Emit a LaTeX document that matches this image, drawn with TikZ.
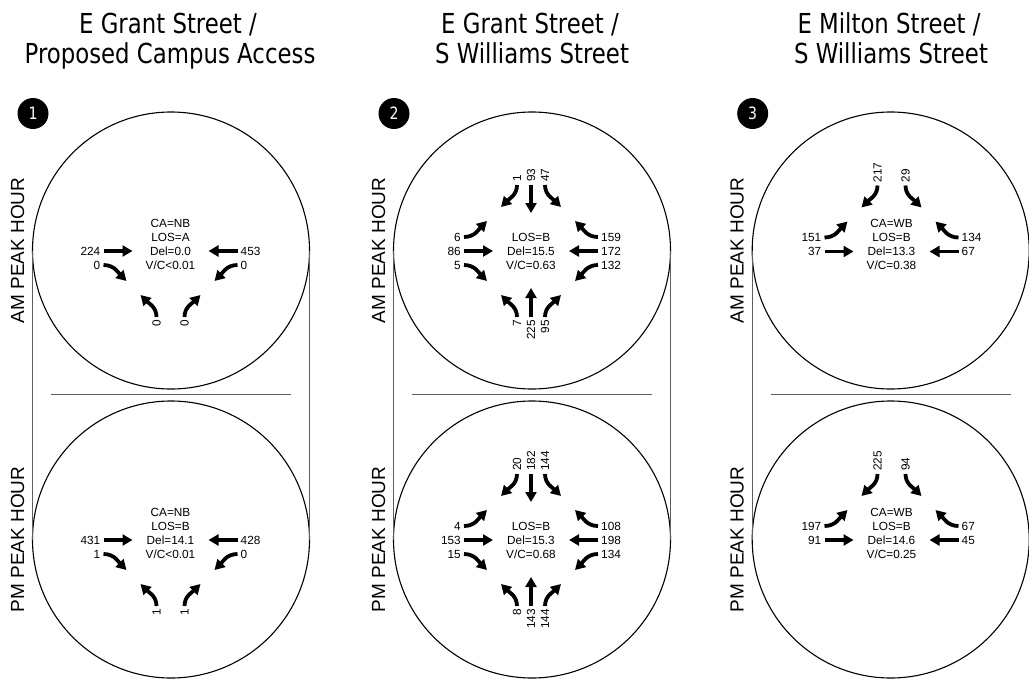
\documentclass[tikz,border=0pt]{standalone}
\usepackage{fontspec}
\setmainfont{Liberation Sans}
\newfontfamily\titlefont[FakeStretch=0.83]{DejaVu Sans}
\usetikzlibrary{arrows.meta}
\definecolor{linegray}{RGB}{95,95,95}
\tikzset{
  mv/.style={line width=3.8pt,-{Triangle[length=10pt,width=11pt]}},
  vol/.style={font=\fontsize{11.8}{13.8}\selectfont,inner sep=0pt},
  info/.style={font=\fontsize{11.8}{13.8}\selectfont,inner sep=0pt,anchor=base},
  circ/.style={draw,line width=1.1pt},
  sepline/.style={draw=linegray,line width=1pt},
  badge/.style={circle,fill=black,minimum size=31pt,inner sep=0pt,text=white,font=\titlefont\fontsize{17}{17}\selectfont},
  sidelabel/.style={rotate=90,inner sep=0pt,font=\fontsize{19}{19}\selectfont},
  titletext/.style={anchor=base,inner sep=0pt,font=\titlefont\fontsize{27.5}{30}\selectfont}
}
\newcommand\tEBT[2]{\node[vol,anchor=east] (#1) at (-70,0) {#2}; \draw[mv] (-67,0) -- (-38,0);}
\newcommand\tEBL[2]{\node[vol,anchor=east] (#1) at (-70,-14) {#2}; \draw[mv] (-67,-14) .. controls (-56,-14) and (-52,-22) .. (-44,-30);}
\newcommand\tEBR[2]{\node[vol,anchor=east] (#1) at (-70,14) {#2}; \draw[mv] (-67,14) .. controls (-56,14) and (-52,22) .. (-44,30);}
\newcommand\tWBT[2]{\node[vol,anchor=west] (#1) at (70,0) {#2}; \draw[mv] (67,0) -- (38,0);}
\newcommand\tWBR[2]{\node[vol,anchor=west] (#1) at (70,-14) {#2}; \draw[mv] (67,-14) .. controls (56,-14) and (52,-22) .. (44,-30);}
\newcommand\tWBL[2]{\node[vol,anchor=west] (#1) at (70,14) {#2}; \draw[mv] (67,14) .. controls (56,14) and (52,22) .. (44,30);}
\newcommand\tSBT[2]{\node[vol,rotate=90,anchor=west] (#1) at (0,-69) {#2}; \draw[mv] (0,-66) -- (0,-38);}
\newcommand\tSBR[2]{\node[vol,rotate=90,anchor=west] (#1) at (-14,-69) {#2}; \draw[mv] (-14,-66) .. controls (-14,-56) and (-22,-52) .. (-30,-44);}
\newcommand\tSBL[2]{\node[vol,rotate=90,anchor=west] (#1) at (14,-69) {#2}; \draw[mv] (14,-66) .. controls (14,-56) and (22,-52) .. (30,-44);}
\newcommand\tNBT[2]{\node[vol,rotate=90,anchor=east] (#1) at (0,69) {#2}; \draw[mv] (0,66) -- (0,37);}
\newcommand\tNBL[2]{\node[vol,rotate=90,anchor=east] (#1) at (-14,69) {#2}; \draw[mv] (-14,66) .. controls (-14,56) and (-22,52) .. (-30,44);}
\newcommand\tNBR[2]{\node[vol,rotate=90,anchor=east] (#1) at (14,69) {#2}; \draw[mv] (14,66) .. controls (14,56) and (22,52) .. (30,44);}
% frame of one column: #1 circle centre x, #2 badge number, #3 name prefix
\newcommand\tFrame[3]{%
  \draw[circ] (#1,250.5) circle[radius=138.5pt];
  \draw[circ] (#1,539.5) circle[radius=138.5pt];
  \draw[sepline] (#1-138.5,250.5) -- (#1-138.5,539.5);
  \draw[sepline] (#1+138.5,250.5) -- (#1+138.5,539.5);
  \draw[sepline] (#1-120,394.5) -- (#1+120,394.5);
  \node[badge] (#3badge) at (#1-138,113.5) {#2};
  \node[sidelabel] (#3am) at (#1-153.5,250.5) {AM PEAK HOUR};
  \node[sidelabel] (#3pm) at (#1-153.5,539.5) {PM PEAK HOUR};
}
\begin{document}
\begin{tikzpicture}[x=1pt,y=-1pt]
\useasboundingbox (0,0) rectangle (1029,686);
\fill[white] (0,0) rectangle (1029,686);

% ---------- column 1 ----------
\node[titletext] (t1a) at (168,33) {E Grant Street /};
\node[titletext] (t1b) at (170,63) {Proposed Campus Access};
\tFrame{171}{1}{c1}
\begin{scope}[shift={(170.5,251)}]
  \node[info] (a1ca) at (0,-23.8) {CA=NB};
  \node[info] (a1los) at (0,-9.8) {LOS=A};
  \node[info] (a1del) at (0,4.2) {Del=0.0};
  \node[info] (a1vc) at (0,18.2) {V/C<0.01};
  \tEBT{a1ebt}{224}
  \tEBR{a1ebr}{0}
  \tWBT{a1wbt}{453}
  \tWBL{a1wbl}{0}
  \tNBL{a1nbl}{0}
  \tNBR{a1nbr}{0}
\end{scope}
\begin{scope}[shift={(170.5,540)}]
  \node[info] (p1ca) at (0,-23.8) {CA=NB};
  \node[info] (p1los) at (0,-9.8) {LOS=B};
  \node[info] (p1del) at (0,4.2) {Del=14.1};
  \node[info] (p1vc) at (0,18.2) {V/C<0.01};
  \tEBT{p1ebt}{431}
  \tEBR{p1ebr}{1}
  \tWBT{p1wbt}{428}
  \tWBL{p1wbl}{0}
  \tNBL{p1nbl}{1}
  \tNBR{p1nbr}{1}
\end{scope}

% ---------- column 2 ----------
\node[titletext] (t2a) at (530,33) {E Grant Street /};
\node[titletext] (t2b) at (532,63) {S Williams Street};
\tFrame{532}{2}{c2}
\begin{scope}[shift={(531,251)}]
  \node[info] (a2los) at (0,-9.8) {LOS=B};
  \node[info] (a2del) at (0,4.2) {Del=15.5};
  \node[info] (a2vc) at (0,18.2) {V/C=0.63};
  \tSBR{a2sbr}{1}
  \tSBT{a2sbt}{93}
  \tSBL{a2sbl}{47}
  \tEBL{a2ebl}{6}
  \tEBT{a2ebt}{86}
  \tEBR{a2ebr}{5}
  \tWBR{a2wbr}{159}
  \tWBT{a2wbt}{172}
  \tWBL{a2wbl}{132}
  \tNBL{a2nbl}{7}
  \tNBT{a2nbt}{225}
  \tNBR{a2nbr}{95}
\end{scope}
\begin{scope}[shift={(531,540)}]
  \node[info] (p2los) at (0,-9.8) {LOS=B};
  \node[info] (p2del) at (0,4.2) {Del=15.3};
  \node[info] (p2vc) at (0,18.2) {V/C=0.68};
  \tSBR{p2sbr}{20}
  \tSBT{p2sbt}{182}
  \tSBL{p2sbl}{144}
  \tEBL{p2ebl}{4}
  \tEBT{p2ebt}{153}
  \tEBR{p2ebr}{15}
  \tWBR{p2wbr}{108}
  \tWBT{p2wbt}{198}
  \tWBL{p2wbl}{134}
  \tNBL{p2nbl}{8}
  \tNBT{p2nbt}{143}
  \tNBR{p2nbr}{144}
\end{scope}

% ---------- column 3 ----------
\node[titletext] (t3a) at (889,33) {E Milton Street /};
\node[titletext] (t3b) at (891,63) {S Williams Street};
\tFrame{890.7}{3}{c3}
\begin{scope}[shift={(891.5,251.5)}]
  \node[info] (a3ca) at (0,-23.8) {CA=WB};
  \node[info] (a3los) at (0,-9.8) {LOS=B};
  \node[info] (a3del) at (0,4.2) {Del=13.3};
  \node[info] (a3vc) at (0,18.2) {V/C=0.38};
  \tSBR{a3sbr}{217}
  \tSBL{a3sbl}{29}
  \tEBL{a3ebl}{151}
  \tEBT{a3ebt}{37}
  \tWBR{a3wbr}{134}
  \tWBT{a3wbt}{67}
\end{scope}
\begin{scope}[shift={(891.5,540)}]
  \node[info] (p3ca) at (0,-23.8) {CA=WB};
  \node[info] (p3los) at (0,-9.8) {LOS=B};
  \node[info] (p3del) at (0,4.2) {Del=14.6};
  \node[info] (p3vc) at (0,18.2) {V/C=0.25};
  \tSBR{p3sbr}{225}
  \tSBL{p3sbl}{94}
  \tEBL{p3ebl}{197}
  \tEBT{p3ebt}{91}
  \tWBR{p3wbr}{67}
  \tWBT{p3wbt}{45}
\end{scope}
\end{tikzpicture}
\end{document}
